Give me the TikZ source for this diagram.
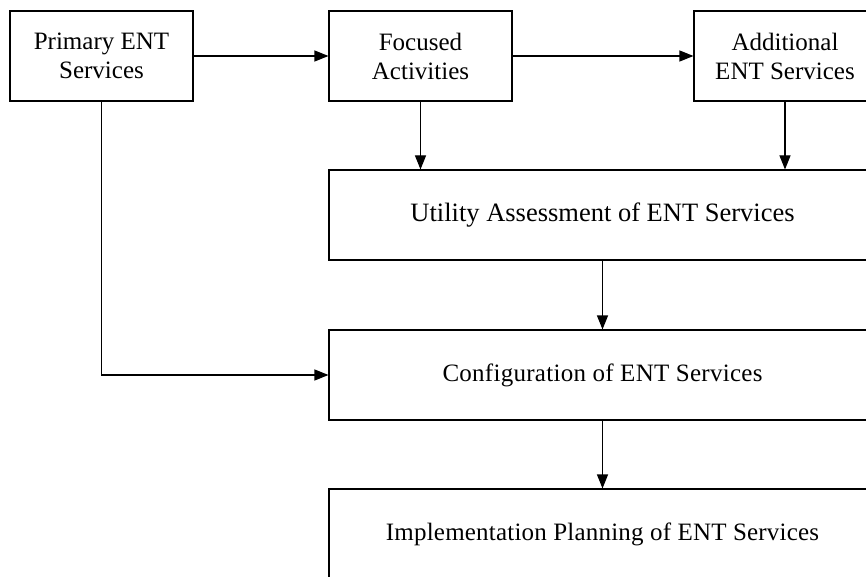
\documentclass[tikz,border=0pt]{standalone}
\usepackage{fontspec}
\setmainfont{Liberation Serif}
\usetikzlibrary{arrows.meta}
\begin{document}
\begin{tikzpicture}[x=1pt,y=-1pt,
  box/.style={draw, line width=1.1pt, inner sep=0pt, align=center, font=\fontsize{25}{29}\selectfont},
  arr/.style={line width=1.1pt, -{Triangle[length=14pt,width=11pt]}}]
\useasboundingbox (0,0) rectangle (866,577);
\node[box, minimum width=183pt, minimum height=90pt] (prim) at (101.5,56) {Primary ENT\\Services};
\node[box, minimum width=183pt, minimum height=90pt] (foc) at (420.5,56) {Focused\\Activities};
\node[box, minimum width=182pt, minimum height=90pt] (add) at (785,56) {Additional\\ENT Services};
\node[box, minimum width=547pt, minimum height=90pt, font=\fontsize{26.5}{30}\selectfont] (util) at (602.5,215) {\raisebox{-2pt}{Utility Assessment of ENT Services}};
\node[box, minimum width=547pt, minimum height=90pt, font={\fontsize{25}{29}\fontspec{Liberation Serif}[LetterSpace=1.1]}] (conf) at (602.5,375) {Configuration of ENT Services};
\node[box, minimum width=547pt, minimum height=91pt, font={\fontsize{25}{29}\fontspec{Liberation Serif}[LetterSpace=0.8]}] (impl) at (602.5,534.5) {Implementation Planning of ENT Services};
\draw[arr] (prim.east) -- (foc.west);
\draw[arr] (foc.east) -- (add.west);
\draw[arr] (foc.south) -- (foc.south |- util.north);
\draw[arr] (add.south) -- (add.south |- util.north);
\draw[arr] (util.south) -- (conf.north);
\draw[arr] (conf.south) -- (impl.north);
\draw[arr] (prim.south) |- (conf.west);
\end{tikzpicture}
\end{document}
